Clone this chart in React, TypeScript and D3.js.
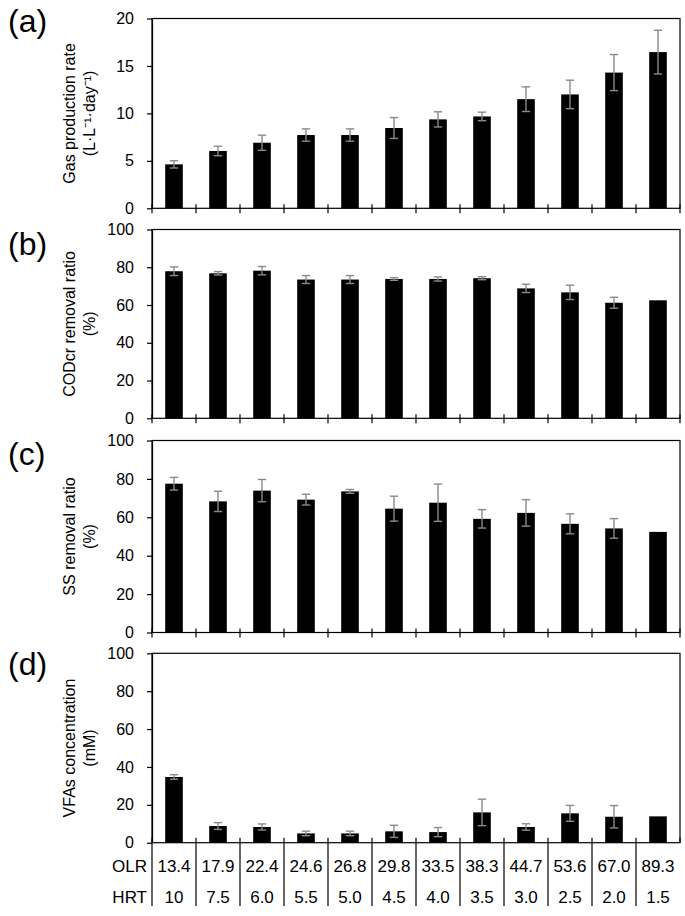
import React, { useRef, useEffect } from "react";
import * as d3 from "d3";

const olr = ["13.4", "17.9", "22.4", "24.6", "26.8", "29.8", "33.5", "38.3", "44.7", "53.6", "67.0", "89.3"];
const hrt = ["10", "7.5", "6.0", "5.5", "5.0", "4.5", "4.0", "3.5", "3.0", "2.5", "2.0", "1.5"];

const gasRate = [4.63, 6.04, 6.91, 7.72, 7.72, 8.46, 9.37, 9.68, 11.5, 12.0, 14.3, 16.46];
const gasErr = [0.38, 0.5, 0.8, 0.65, 0.65, 1.1, 0.8, 0.45, 1.3, 1.5, 1.9, 2.3];
const codRemoval = [77.9, 76.8, 78.2, 73.5, 73.5, 73.8, 73.8, 74.2, 68.8, 66.7, 61.2, 62.5];
const codErr = [2.3, 0.9, 2.2, 2.1, 2.1, 0.7, 1.1, 0.8, 2.2, 3.8, 2.9, 0];
const ssRemoval = [77.5, 68.3, 73.9, 69.2, 73.5, 64.5, 67.6, 59.2, 62.3, 56.6, 54.2, 52.4];
const ssErr = [3.3, 5.3, 5.8, 2.8, 1.0, 6.5, 9.7, 4.8, 6.9, 5.2, 5.1, 0];
const vfaConc = [34.7, 8.8, 8.3, 4.9, 4.9, 6.0, 5.6, 16.0, 8.3, 15.5, 13.7, 13.9];
const vfaErr = [1.2, 1.8, 1.6, 1.2, 1.2, 3.2, 2.4, 7.0, 1.7, 4.2, 5.9, 0];

const gasTicks = [0, 5, 10, 15, 20];
const pctTicks = [0, 20, 40, 60, 80, 100];

const panels = [
    { letter: "(a)", letterY: 32, top: 18.5, bottom: 208.3, max: 20, ticks: gasTicks,
      values: gasRate, errors: gasErr, title: ["Gas production rate", "(L\u00b7L\u207b\u00b9\u00b7day\u207b\u00b9)"] },
    { letter: "(b)", letterY: 255, top: 229.5, bottom: 418.3, max: 100, ticks: pctTicks,
      values: codRemoval, errors: codErr, title: ["CODcr removal ratio", "(%)"] },
    { letter: "(c)", letterY: 465, top: 440.5, bottom: 632.5, max: 100, ticks: pctTicks,
      values: ssRemoval, errors: ssErr, title: ["SS removal ratio", "(%)"] },
    { letter: "(d)", letterY: 675, top: 653.3, bottom: 842.7, max: 100, ticks: pctTicks,
      values: vfaConc, errors: vfaErr, title: ["VFAs concentration", "(mM)"] },
];

const App = () => {
    const plot = useRef(null);

    const width = 685;
    const height = 916;
    const left = 152;
    const right = 680;
    const font = "'Liberation Sans', Arial, Helvetica, sans-serif";
    const errColor = "#8a8a8a";

    useEffect(() => {
        const svg = d3.select(plot.current);
        svg.selectAll("*").remove();

        const xScale = d3.scaleBand()
                        .domain(olr)
                        .range([left, right])
                        .paddingInner(0.6)
                        .paddingOuter(0.3);
        const step = xScale.step();
        const bounds = d3.range(olr.length + 1).map(i => left + i * step);

        panels.forEach((p, pi) => {
            const yScale = d3.scaleLinear()
                            .domain([0, p.max])
                            .range([p.bottom, p.top]);
            const g = svg.append("g");

            // frame
            g.append("rect")
                .attr("x", left)
                .attr("y", p.top)
                .attr("width", right - left)
                .attr("height", p.bottom - p.top)
                .attr("fill", "none")
                .attr("stroke", "#000")
                .attr("stroke-width", 1.2);

            // y axis
            g.append("g")
                .attr("transform", `translate(${left}, 0)`)
                .call(d3.axisLeft(yScale).tickValues(p.ticks).tickSize(5).tickSizeOuter(0).tickPadding(13))
                .call(a => a.select(".domain").attr("stroke-width", 1.2))
                .call(a => a.selectAll(".tick line").attr("stroke-width", 1.2))
                .call(a => a.selectAll("text")
                    .attr("font-family", font)
                    .attr("font-size", 16)
                    .attr("fill", "#000"));

            // bars
            g.selectAll("rect.bar")
                .data(p.values)
                .join("rect")
                .attr("class", "bar")
                .attr("x", (d, i) => xScale(olr[i]))
                .attr("y", d => yScale(d))
                .attr("width", xScale.bandwidth())
                .attr("height", d => p.bottom - yScale(d))
                .attr("fill", "#000");

            // error bars
            const eg = g.append("g")
                        .attr("stroke", errColor)
                        .attr("stroke-width", 1.4);
            p.values.forEach((v, i) => {
                const e = p.errors[i];
                if (!e) return;
                const cx = xScale(olr[i]) + xScale.bandwidth() / 2;
                const y1 = yScale(v + e);
                const y2 = yScale(v - e);
                eg.append("line").attr("x1", cx).attr("x2", cx).attr("y1", y1).attr("y2", y2);
                eg.append("line").attr("x1", cx - 4.2).attr("x2", cx + 4.2).attr("y1", y1).attr("y2", y1);
                eg.append("line").attr("x1", cx - 4.2).attr("x2", cx + 4.2).attr("y1", y2).attr("y2", y2);
            });

            // category boundary ticks
            const last = pi === panels.length - 1;
            g.selectAll("line.cat")
                .data(bounds)
                .join("line")
                .attr("class", "cat")
                .attr("x1", d => d)
                .attr("x2", d => d)
                .attr("y1", p.bottom - (last ? 5 : 4))
                .attr("y2", (d, i) => last ? (i === bounds.length - 1 ? p.bottom : 906) : p.bottom + 5)
                .attr("stroke", "#000")
                .attr("stroke-width", 1.2);

            // panel letter
            g.append("text")
                .attr("x", 8)
                .attr("y", p.letterY)
                .attr("font-family", font)
                .attr("font-size", 32)
                .text(p.letter);

            // axis title
            const cy = (p.top + p.bottom) / 2;
            p.title.forEach((t, li) => {
                g.append("text")
                    .attr("transform", `translate(${75 + li * 20}, ${cy}) rotate(-90)`)
                    .attr("text-anchor", "middle")
                    .attr("font-family", font)
                    .attr("font-size", 16)
                    .text(t);
            });
        });

        // table below the last panel
        const tg = svg.append("g")
                    .attr("font-family", font)
                    .attr("font-size", 17)
                    .attr("fill", "#000");
        const rows = [{ name: "OLR", labels: olr, y: 872 }, { name: "HRT", labels: hrt, y: 902.5 }];
        rows.forEach(r => {
            tg.append("text")
                .attr("x", 147)
                .attr("y", r.y)
                .attr("text-anchor", "end")
                .text(r.name);
            tg.selectAll(null)
                .data(r.labels)
                .join("text")
                .attr("x", (d, i) => xScale(olr[i]) + xScale.bandwidth() / 2)
                .attr("y", r.y)
                .attr("text-anchor", "middle")
                .text(d => d);
        });
    });

    return (
        <svg ref={plot} width={width} height={height}
             style={{ position: "absolute", left: 0, top: 0, background: "#fff" }} />
    );
};

export default App;
